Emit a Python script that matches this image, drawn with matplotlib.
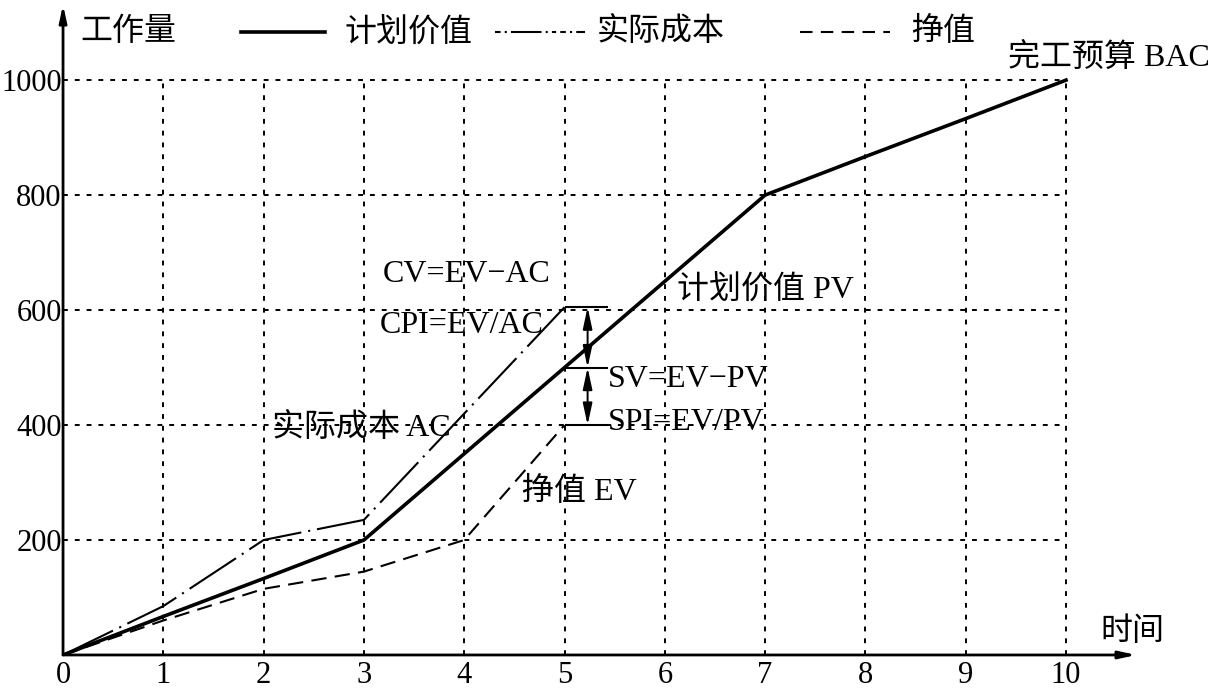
import matplotlib.pyplot as plt

plt.rcParams['font.family'] = ['Liberation Serif', 'Noto Sans CJK SC']
plt.rcParams['lines.scale_dashes'] = False

# data
time = [0, 1, 2, 3, 4, 5, 6, 7, 8, 9, 10]
pv = [0, 67, 133, 200, 350, 500, 650, 800, 867, 933, 1000]
ac_time = [0, 1, 2, 3, 5]
ac = [0, 85, 200, 235, 605]
ev_time = [0, 1, 2, 3, 4, 5]
ev = [0, 60, 115, 145, 200, 400]
y_ticks = [200, 400, 600, 800, 1000]
bar_levels = [605, 500, 400]

FS = 23
fig = plt.figure(figsize=(12.31, 6.88), dpi=100)
ax = fig.add_axes([0.0512, 0.048, 0.871, 0.945])
ax.set_xlim(0, 10.69)
ax.set_ylim(0, 1131)
for s in ax.spines.values():
    s.set_visible(False)

# dashed grid only inside the data area
grid_kw = dict(color='black', lw=1.4, linestyles=(0, (3.5, 5)))
ax.vlines(time[1:], 0, 1000, **grid_kw)
ax.hlines(y_ticks, 0, 10, **grid_kw)

# axes with arrows
head = '-|>,head_length=1.0,head_width=0.22'
ax.annotate('', xy=(10.7, 0), xytext=(0, 0), annotation_clip=False,
            arrowprops=dict(arrowstyle=head, lw=2.0, color='black', shrinkA=0, shrinkB=0))
ax.annotate('', xy=(0, 1131), xytext=(0, 0), annotation_clip=False,
            arrowprops=dict(arrowstyle=head, lw=2.0, color='black', shrinkA=0, shrinkB=0))

ax.set_xticks(time)
ax.set_xticklabels([str(t) for t in time], fontsize=FS - 1)
ax.set_yticks(y_ticks)
ax.set_yticklabels([str(v) for v in y_ticks], fontsize=FS - 1)
ax.tick_params(length=0)
ax.tick_params(axis='x', pad=4)
ax.tick_params(axis='y', pad=1)

# series
ax.plot(time, pv, color='black', lw=2.6, solid_joinstyle='miter')
ax.plot(ac_time, ac, color='black', lw=1.5, dashes=(40, 5, 1.5, 5))
ax.plot(ev_time, ev, color='black', lw=1.5, dashes=(11, 6))

# variance bars and arrows at t=5
ax.hlines(bar_levels, 5, 5.43, color='black', lw=1.5)
arr = dict(arrowstyle='<|-|>,head_length=1.3,head_width=0.28', lw=1.4, color='black', shrinkA=0, shrinkB=0)
ax.annotate('', xy=(5.23, bar_levels[0]), xytext=(5.23, bar_levels[1]), arrowprops=arr)
ax.annotate('', xy=(5.23, bar_levels[1]), xytext=(5.23, bar_levels[2]), arrowprops=arr)

# legend drawn by hand
ly = 1083
ax.text(0.17, ly, '工作量', fontsize=FS, va='center')
ax.plot([1.77, 2.61], [ly, ly], color='black', lw=2.6, clip_on=False)
ax.text(2.81, ly, '计划价值', fontsize=FS, va='center')
ax.plot([4.31, 5.2], [ly, ly], color='black', lw=1.5, dashes=(4, 3, 1.5, 3, 22, 3, 1.5, 3, 3, 3), clip_on=False)
ax.text(5.32, ly, '实际成本', fontsize=FS, va='center')
ax.plot([7.35, 8.25], [ly, ly], color='black', lw=1.5, dashes=(9, 6), clip_on=False)
ax.text(8.46, ly, '挣值', fontsize=FS, va='center')

# annotations
ax.text(9.42, 1039, '完工预算 BAC', fontsize=FS, va='center', clip_on=False)
ax.text(3.19, 661, 'CV=EV−AC', fontsize=FS, va='center')
ax.text(3.16, 573, 'CPI=EV/AC', fontsize=FS, va='center')
ax.text(6.12, 635, '计划价值 PV', fontsize=FS, va='center')
ax.text(5.43, 479, 'SV=EV−PV', fontsize=FS, va='center')
ax.text(5.43, 405, 'SPI=EV/PV', fontsize=FS, va='center')
ax.text(2.08, 395, '实际成本 AC', fontsize=FS, va='center')
ax.text(4.58, 284, '挣值 EV', fontsize=FS, va='center')
ax.text(10.34, 40, '时间', fontsize=FS, va='center')

fig.savefig('out.png', dpi=100)
